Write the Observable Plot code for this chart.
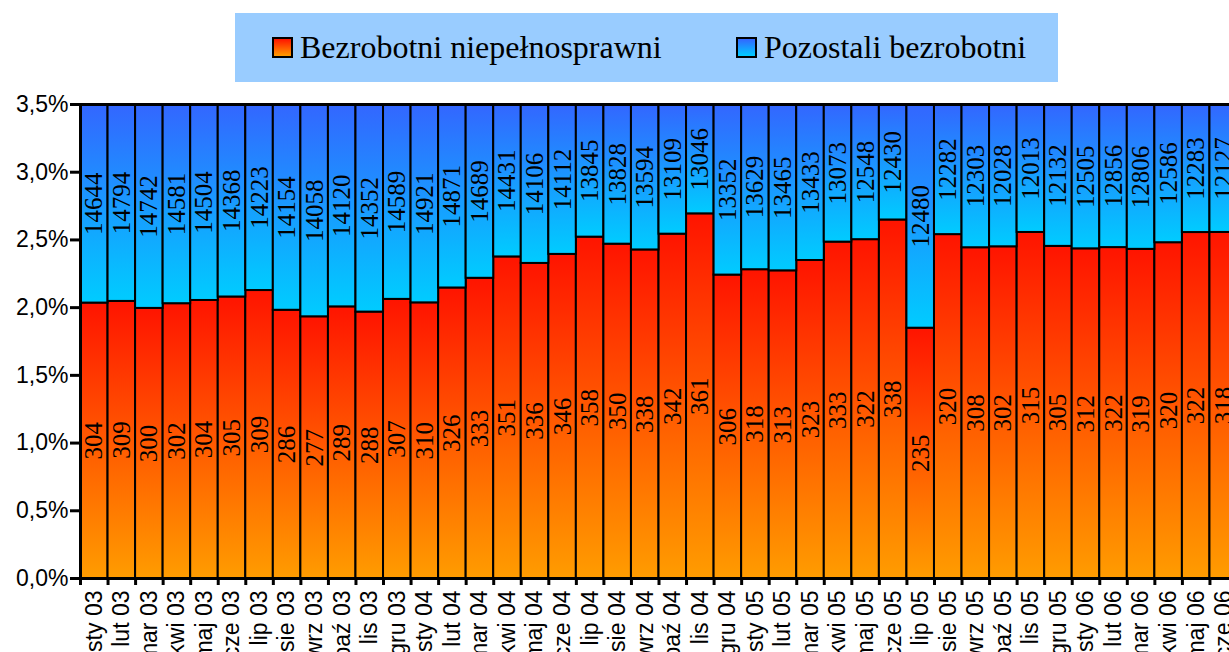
<!DOCTYPE html>
<html>
<head>
<meta charset="utf-8">
<script src="https://cdn.jsdelivr.net/npm/d3@7"></script>
<script src="https://cdn.jsdelivr.net/npm/@observablehq/plot@0.6"></script>
<style>
  html, body { margin: 0; padding: 0; background: white; overflow: hidden; }
  #legendArea { position: relative; height: 90px; width: 1229px; }
  #legendBox { position: absolute; left: 235px; top: 13px; width: 823px; height: 69px; background: #99CCFF; }
  .item { position: absolute; top: 0; height: 69px; display: flex; align-items: center; font-family: "Liberation Serif", "Times New Roman", serif; font-size: 32px; color: #000; white-space: nowrap; }
  .sw { width: 17px; height: 17px; border: 2px solid #000; margin-right: 7px; box-sizing: content-box; }
  #chart svg { display: block; max-width: none !important; }
</style>
</head>
<body>
<div id="legendArea">
  <div id="legendBox">
    <div class="item" style="left:37px"><div class="sw" style="background:linear-gradient(#FF1400,#FF9C00)"></div>Bezrobotni niepełnosprawni</div>
    <div class="item" style="left:501px"><div class="sw" style="background:linear-gradient(#3366FF,#00CCFF)"></div>Pozostali bezrobotni</div>
  </div>
</div>
<div id="chart"></div>
<script>
// Categories (months)
const months = ["sty 03","lut 03","mar 03","kwi 03","maj 03","cze 03","lip 03","sie 03","wrz 03","paź 03","lis 03","gru 03",
  "sty 04","lut 04","mar 04","kwi 04","maj 04","cze 04","lip 04","sie 04","wrz 04","paź 04","lis 04","gru 04",
  "sty 05","lut 05","mar 05","kwi 05","maj 05","cze 05","lip 05","sie 05","wrz 05","paź 05","lis 05","gru 05",
  "sty 06","lut 06","mar 06","kwi 06","maj 06","cze 06"];
// Bezrobotni niepełnosprawni (counts)
const disabled = [304,309,300,302,304,305,309,286,277,289,288,307,
  310,326,333,351,336,346,358,350,338,342,361,306,
  318,313,323,333,322,338,235,320,308,302,315,305,
  312,322,319,320,322,318];
// Pozostali bezrobotni (counts)
const others = [14644,14794,14742,14581,14504,14368,14223,14154,14058,14120,14352,14589,
  14921,14871,14689,14431,14106,14112,13845,13828,13594,13109,13046,13352,
  13629,13465,13433,13073,12548,12430,12480,12282,12303,12028,12013,12132,
  12505,12856,12806,12586,12283,12127];
// Y axis ticks (share of all unemployed)
const yTicks = [0, 0.005, 0.01, 0.015, 0.02, 0.025, 0.03, 0.035];
const yMax = 0.035; // axis maximum; the "others" segment (up to 100%) is cut here

const data = months.map((m, i) => {
  const share = disabled[i] / (disabled[i] + others[i]);
  return {month: m, d: disabled[i], o: others[i], share, top: Math.min(1, yMax)};
});

const W = 1240, mL = 80, mR = 3;
const bw = (W - mL - mR) / months.length;
const fmt = v => (v * 100).toFixed(1).replace(".", ",") + "%";
const serif = "Liberation Serif, Times New Roman, serif";

const chart = Plot.plot({
  width: W,
  height: 562,
  marginLeft: mL,
  marginRight: mR,
  marginTop: 14,
  marginBottom: 74,
  style: {fontFamily: "Liberation Sans, Arial, sans-serif", color: "#000", background: "white", overflow: "visible"},
  x: {domain: months, padding: 0, round: false, label: null},
  y: {domain: [0, yMax], label: null},
  marks: [
    Plot.barY(data, {x: "month", y1: 0, y2: "share", fill: "url(#gRed)", stroke: "#000", strokeWidth: 2, inset: 0}),
    Plot.barY(data, {x: "month", y1: "share", y2: "top", fill: "url(#gBlue)", stroke: "#000", strokeWidth: 2, inset: 0}),
    Plot.text(data, {x: "month", y: d => d.share / 2, text: d => String(d.d), rotate: -90, fontSize: 25, fontFamily: serif, fill: "#000"}),
    Plot.text(data, {x: "month", y: d => (d.share + d.top) / 2, text: d => String(d.o), rotate: -90, fontSize: 25, fontFamily: serif, fill: "#000"}),
    Plot.axisY({ticks: yTicks, tickFormat: fmt, tickSize: 10, tickPadding: 2, fontSize: 23, strokeWidth: 3, label: null}),
    Plot.axisX({tickSize: 7, tickFormat: () => "", dx: -bw / 2, strokeWidth: 3, label: null}),
    Plot.axisX({tickSize: 0, tickPadding: 12, tickRotate: -90, fontSize: 23, label: null}),
    Plot.ruleY([0], {stroke: "#000", strokeWidth: 3}),
    Plot.ruleY([yMax], {stroke: "#000", strokeWidth: 3}),
    Plot.ruleX([months[0]], {dx: -bw / 2, stroke: "#000", strokeWidth: 3})
  ]
});

const defs = document.createElementNS("http://www.w3.org/2000/svg", "defs");
defs.innerHTML = `
  <linearGradient id="gRed" x1="0" y1="0" x2="0" y2="1">
    <stop offset="0" stop-color="#FF1400"/><stop offset="1" stop-color="#FF9C00"/>
  </linearGradient>
  <linearGradient id="gBlue" x1="0" y1="0" x2="0" y2="1">
    <stop offset="0" stop-color="#3366FF"/><stop offset="1" stop-color="#00CCFF"/>
  </linearGradient>`;
chart.insertBefore(defs, chart.firstChild);
chart.style.maxWidth = "none";
document.getElementById("chart").appendChild(chart);
</script>
</body>
</html>
